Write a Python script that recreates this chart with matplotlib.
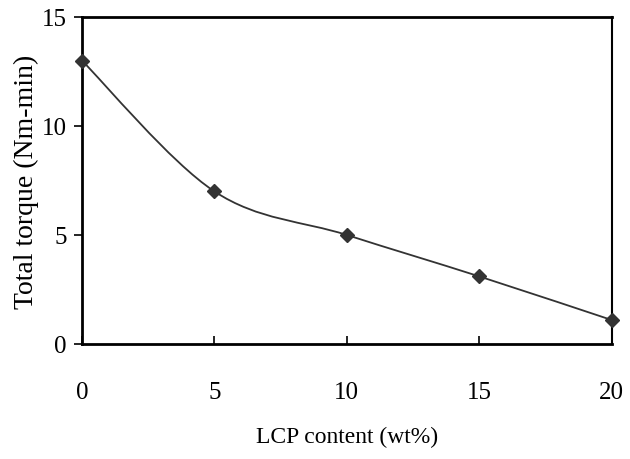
import matplotlib as mpl
import numpy as np
mpl.use('Agg')
import matplotlib.pyplot as plt
from matplotlib.path import Path
from matplotlib.patches import PathPatch

lcp_content = [0, 5, 10, 15, 20]
total_torque = [13.0, 7.0, 5.0, 3.1, 1.1]
x_ticks = [0, 5, 10, 15, 20]
y_ticks = [0, 5, 10, 15]

plt.rcParams['font.family'] = ['Liberation Serif', 'DejaVu Serif']


def smooth_path(xs, ys, tension=1.0 / 6):
    # bezier path through the points, like a spreadsheet "smoothed line"
    pts = np.column_stack([xs, ys]).astype(float)
    n = len(pts)
    verts = [pts[0]]
    codes = [Path.MOVETO]
    for i in range(n - 1):
        p0 = pts[i - 1] if i > 0 else pts[i]
        p1 = pts[i]
        p2 = pts[i + 1]
        p3 = pts[i + 2] if i + 2 < n else pts[i + 1]
        c1 = p1 + (p2 - p0) * tension
        c2 = p2 - (p3 - p1) * tension
        verts += [c1, c2, p2]
        codes += [Path.CURVE4] * 3
    return Path(verts, codes)


fig = plt.figure(figsize=(6.3, 4.6), dpi=100)
ax = fig.add_axes([0.130, 0.250, 0.841, 0.711])

ax.add_patch(PathPatch(smooth_path(lcp_content, total_torque), facecolor='none',
                       edgecolor='#333333', lw=1.3))
ax.plot(lcp_content, total_torque, ls='', marker='D', ms=7, color='#333333',
        clip_on=False, zorder=3)

ax.set_xlim(0, 20)
ax.set_ylim(0, 15)
ax.set_xticks(x_ticks)
ax.set_yticks(y_ticks)
ax.tick_params(axis='x', direction='in', length=6, width=1.2, pad=27, labelsize=18)
ax.tick_params(axis='y', direction='out', length=6, width=1.2, pad=5, labelsize=18)
for s in ax.spines.values():
    s.set_linewidth(2)
ax.spines['right'].set_linewidth(1.5)

ax.set_xlabel('LCP content (wt%)', fontsize=17, labelpad=16)
ax.set_ylabel('Total torque (Nm-min)', fontsize=20, labelpad=2)

fig.savefig('out.png', dpi=100)
